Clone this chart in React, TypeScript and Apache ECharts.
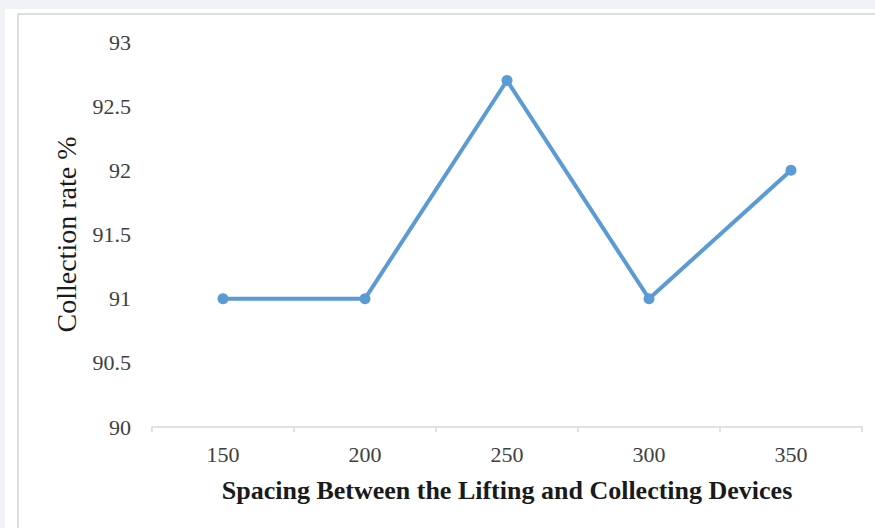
import React, { useEffect, useRef } from "react";
import * as echarts from "echarts";

const categories = ["150", "200", "250", "300", "350"];
const collectionRate = [91, 91, 92.7, 91, 92];
const yMin = 90;
const yMax = 93;
const yInterval = 0.5;
const xAxisName = "Spacing Between the Lifting and Collecting Devices";
const yAxisName = "Collection rate %";

const FONT = '"Liberation Serif", "Times New Roman", serif';

export default function App() {
  const ref = useRef<HTMLDivElement>(null);
  useEffect(() => {
    if (!ref.current) return;
    const chart = echarts.init(ref.current, null, { renderer: "svg" });
    chart.setOption({
      animation: false,
      grid: { left: 152, right: 13, top: 42, bottom: 101, containLabel: false },
      xAxis: {
        type: "category",
        data: categories,
        boundaryGap: true,
        axisLine: { show: true, lineStyle: { color: "#d9d9d9", width: 1.5 } },
        axisTick: { show: true, length: 5, lineStyle: { color: "#d9d9d9", width: 1.5 } },
        axisLabel: { color: "#404040", fontFamily: FONT, fontSize: 22, margin: 16 },
        name: xAxisName,
        nameLocation: "middle",
        nameGap: 50,
        nameTextStyle: { color: "#1a1a1a", fontFamily: FONT, fontSize: 26, fontWeight: "bold" },
      },
      yAxis: {
        type: "value",
        min: yMin,
        max: yMax,
        interval: yInterval,
        axisLine: { show: false },
        axisTick: { show: false },
        splitLine: { show: false },
        axisLabel: { color: "#404040", fontFamily: FONT, fontSize: 22, margin: 21 },
        name: yAxisName,
        nameLocation: "middle",
        nameGap: 72,
        nameTextStyle: { color: "#1a1a1a", fontFamily: FONT, fontSize: 28 },
      },
      series: [
        {
          type: "line",
          data: collectionRate,
          symbol: "circle",
          symbolSize: 11,
          lineStyle: { color: "#5b9bd5", width: 4 },
          itemStyle: { color: "#5b9bd5" },
        },
      ],
    });
    return () => chart.dispose();
  }, []);

  return (
    <div style={{ position: "fixed", left: 0, top: 0, width: 875, height: 528, background: "#f0f2f5", overflow: "hidden" }}>
      <div style={{ position: "absolute", left: 5, top: 9, width: 880, height: 530, background: "#ffffff" }} />
      <div
        style={{
          position: "absolute",
          left: 17,
          top: 13,
          width: 880,
          height: 530,
          background: "#ffffff",
          borderLeft: "2px solid #dedede",
          borderTop: "2px solid #dedede",
        }}
      />
      <div ref={ref} style={{ position: "absolute", left: 0, top: 0, width: 875, height: 528 }} />
    </div>
  );
}
